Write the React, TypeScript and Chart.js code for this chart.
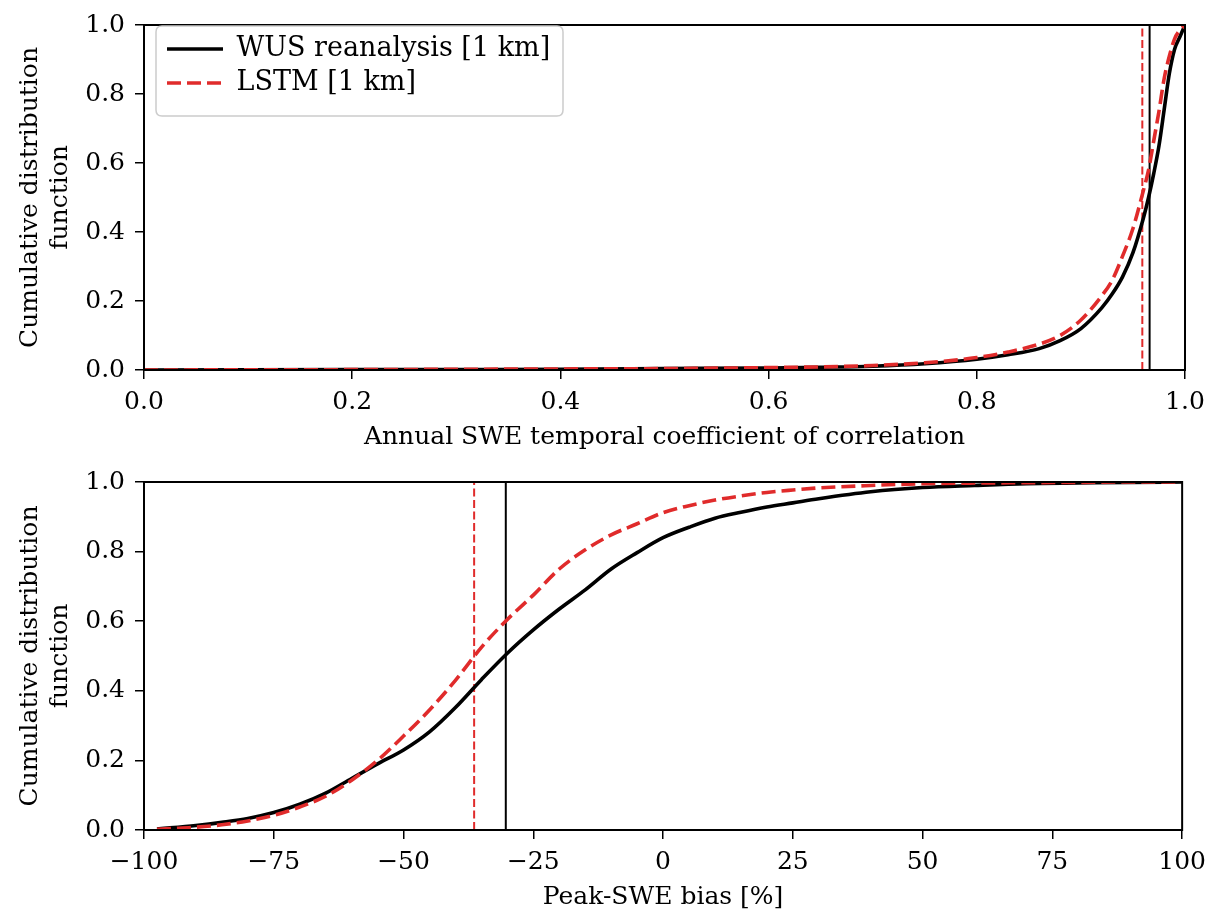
import React, { useEffect, useRef } from 'react';
import { Chart, registerables } from 'chart.js';

Chart.register(...registerables);

const FONT = "'DejaVu Serif', 'Liberation Serif', serif";
const RED = '#e02b2b';
const BLACK = '#000000';

// Top panel: annual SWE temporal correlation
const CORR_X = [0, 0.1, 0.2, 0.3, 0.4, 0.5, 0.6, 0.65, 0.7, 0.75, 0.8, 0.83, 0.86, 0.88, 0.9, 0.92, 0.93, 0.94, 0.95, 0.96, 0.965, 0.97, 0.975, 0.98, 0.985, 0.99, 0.995, 1.0];
const CORR_WUS = [0, 0.0005, 0.001, 0.0015, 0.002, 0.004, 0.006, 0.008, 0.011, 0.018, 0.031, 0.044, 0.062, 0.085, 0.12, 0.18, 0.22, 0.27, 0.34, 0.44, 0.5, 0.57, 0.65, 0.755, 0.86, 0.93, 0.965, 1.0];
const CORR_LSTM = [0, 0.0005, 0.001, 0.002, 0.003, 0.004, 0.007, 0.009, 0.013, 0.021, 0.036, 0.052, 0.075, 0.1, 0.145, 0.215, 0.26, 0.33, 0.41, 0.52, 0.58, 0.665, 0.75, 0.845, 0.91, 0.96, 0.985, 1.0];
const CORR_MEDIAN_WUS = 0.966;
const CORR_MEDIAN_LSTM = 0.959;
const CORR_TICKS = { min: 0, max: 1, step: 0.2 };

// Bottom panel: peak-SWE bias [%]
const BIAS_X = [-97.5, -95, -90, -85, -80, -75, -70, -65, -60, -55, -50, -45, -40, -35, -30, -25, -20, -15, -10, -5, 0, 5, 10, 15, 20, 25, 30, 40, 50, 60, 70, 80, 90, 100];
const BIAS_WUS = [0.003, 0.006, 0.013, 0.022, 0.033, 0.05, 0.074, 0.106, 0.148, 0.19, 0.23, 0.282, 0.352, 0.432, 0.508, 0.575, 0.635, 0.69, 0.75, 0.797, 0.84, 0.87, 0.896, 0.913, 0.928, 0.94, 0.952, 0.972, 0.984, 0.99, 0.995, 0.997, 0.999, 1.0];
const BIAS_LSTM = [0.002, 0.004, 0.008, 0.015, 0.026, 0.042, 0.066, 0.097, 0.143, 0.2, 0.27, 0.345, 0.43, 0.525, 0.605, 0.675, 0.75, 0.805, 0.848, 0.88, 0.912, 0.932, 0.948, 0.96, 0.97, 0.977, 0.983, 0.99, 0.995, 0.997, 0.998, 0.999, 1.0, 1.0];
const BIAS_MEDIAN_WUS = -30.3;
const BIAS_MEDIAN_LSTM = -36.4;
const BIAS_TICKS = { min: -100, max: 100, step: 25 };

const LABEL_WUS = 'WUS reanalysis [1 km]';
const LABEL_LSTM = 'LSTM [1 km]';
const Y_TITLE = ['Cumulative distribution', 'function'];
const X_TITLE_TOP = 'Annual SWE temporal coefficient of correlation';
const X_TITLE_BOTTOM = 'Peak-SWE bias [%]';

const W = 1214;
const H = 457;
const CURVE_W = 3.6;
const CURVE_DASH = [14, 6];

const framePlugin = {
  id: 'frame',
  afterDatasetsDraw(chart: any) {
    const { ctx, chartArea } = chart;
    ctx.save();
    ctx.strokeStyle = BLACK;
    ctx.lineWidth = 2;
    ctx.strokeRect(chartArea.left, chartArea.top, chartArea.right - chartArea.left, chartArea.bottom - chartArea.top);
    ctx.restore();
  },
};

const legendPlacePlugin = {
  id: 'legendPlace',
  beforeDraw(chart: any) {
    const lg = chart.legend;
    if (!lg) return;
    lg.left = 160;
    lg.top = 28.5;
  },
  afterDraw(chart: any) {
    const { ctx } = chart;
    const x = 156, y = 26, w = 407, h = 90, r = 6;
    ctx.save();
    ctx.strokeStyle = '#cccccc';
    ctx.lineWidth = 1.5;
    ctx.beginPath();
    ctx.moveTo(x + r, y);
    ctx.lineTo(x + w - r, y);
    ctx.quadraticCurveTo(x + w, y, x + w, y + r);
    ctx.lineTo(x + w, y + h - r);
    ctx.quadraticCurveTo(x + w, y + h, x + w - r, y + h);
    ctx.lineTo(x + r, y + h);
    ctx.quadraticCurveTo(x, y + h, x, y + h - r);
    ctx.lineTo(x, y + r);
    ctx.quadraticCurveTo(x, y, x + r, y);
    ctx.closePath();
    ctx.stroke();
    ctx.restore();
  },
};

function fmtTop(v: number) {
  return v.toFixed(1);
}
function fmtBottom(v: number) {
  const n = Math.round(v);
  return n < 0 ? '\u2212' + Math.abs(n) : String(n);
}

function legendItems(chart: any) {
  return [1, 0].map((i) => {
    const ds = chart.data.datasets[i];
    return {
      text: ds.label,
      fillStyle: ds.borderColor,
      strokeStyle: ds.borderColor,
      fontColor: BLACK,
      lineWidth: CURVE_W,
      lineDash: ds.borderDash || [],
      lineCap: 'butt',
      pointStyle: 'line',
      hidden: false,
      datasetIndex: i,
    };
  });
}

function buildConfig(p: any) {
  const pts = (xs: number[], ys: number[]) => xs.map((x, i) => ({ x, y: ys[i] }));
  const tickFont = { family: FONT, size: 25, lineHeight: 1.2 };
  return {
    type: 'line',
    data: {
      datasets: [
        {
          label: LABEL_LSTM,
          data: pts(p.x, p.lstm),
          borderColor: RED,
          backgroundColor: RED,
          borderWidth: CURVE_W,
          borderDash: CURVE_DASH,
          pointRadius: 0,
          cubicInterpolationMode: 'monotone',
          fill: false,
        },
        {
          label: LABEL_WUS,
          data: pts(p.x, p.wus),
          borderColor: BLACK,
          backgroundColor: BLACK,
          borderWidth: CURVE_W,
          pointRadius: 0,
          cubicInterpolationMode: 'monotone',
          fill: false,
        },
        {
          label: 'median WUS',
          data: [{ x: p.medWus, y: 0 }, { x: p.medWus, y: 1 }],
          borderColor: BLACK,
          borderWidth: 2,
          pointRadius: 0,
          fill: false,
        },
        {
          label: 'median LSTM',
          data: [{ x: p.medLstm, y: 0 }, { x: p.medLstm, y: 1 }],
          borderColor: RED,
          borderWidth: 2,
          borderDash: [8, 3.5],
          pointRadius: 0,
          fill: false,
        },
      ],
    },
    options: {
      responsive: false,
      animation: false,
      events: [],
      layout: { padding: { top: p.padTop, right: W - 1185, left: 0, bottom: 0 }, autoPadding: false },
      plugins: {
        tooltip: { enabled: false },
        legend: p.legend
          ? {
              display: true,
              position: 'chartArea',
              align: 'start',
              labels: {
                generateLabels: legendItems,
                usePointStyle: true,
                pointStyle: 'line',
                pointStyleWidth: 56,
                padding: 7,
                color: BLACK,
                font: { family: FONT, size: 27 },
              },
            }
          : { display: false },
      },
      scales: {
        x: {
          type: 'linear',
          min: p.ticks.min,
          max: p.ticks.max,
          afterFit: (s: any) => {
            s.height = p.xAxisHeight;
          },
          ticks: {
            stepSize: p.ticks.step,
            autoSkip: false,
            maxRotation: 0,
            padding: 8,
            color: BLACK,
            font: tickFont,
            callback: (v: any) => p.fmt(Number(v)),
          },
          grid: { drawOnChartArea: false, drawTicks: true, tickLength: 9, color: BLACK, lineWidth: 1.5 },
          border: { display: false },
          title: {
            display: true,
            text: p.xTitle,
            color: BLACK,
            font: { family: FONT, size: 25, lineHeight: 1.2 },
            padding: { top: 0, bottom: p.xTitlePad },
          },
        },
        y: {
          type: 'linear',
          min: 0,
          max: 1,
          afterFit: (s: any) => {
            s.width = 144;
          },
          ticks: {
            stepSize: 0.2,
            padding: 10,
            color: BLACK,
            font: tickFont,
            callback: (v: any) => Number(v).toFixed(1),
          },
          grid: { drawOnChartArea: false, drawTicks: true, tickLength: 9, color: BLACK, lineWidth: 1.5 },
          border: { display: false },
          title: {
            display: true,
            text: Y_TITLE,
            color: BLACK,
            font: { family: FONT, size: 25, lineHeight: 1.22 },
            padding: { top: 15, bottom: 0 },
          },
        },
      },
    },
    plugins: p.legend ? [framePlugin, legendPlacePlugin] : [framePlugin],
  };
}

export default function App() {
  const topRef = useRef<HTMLCanvasElement | null>(null);
  const botRef = useRef<HTMLCanvasElement | null>(null);

  useEffect(() => {
    Chart.defaults.font.family = FONT;
    Chart.defaults.color = BLACK;
    const top = new Chart(topRef.current as HTMLCanvasElement, buildConfig({
      x: CORR_X,
      wus: CORR_WUS,
      lstm: CORR_LSTM,
      medWus: CORR_MEDIAN_WUS,
      medLstm: CORR_MEDIAN_LSTM,
      ticks: CORR_TICKS,
      fmt: fmtTop,
      xTitle: X_TITLE_TOP,
      padTop: 17,
      xAxisHeight: H - 370,
      xTitlePad: 5,
      legend: true,
    }) as any);
    const bot = new Chart(botRef.current as HTMLCanvasElement, buildConfig({
      x: BIAS_X,
      wus: BIAS_WUS,
      lstm: BIAS_LSTM,
      medWus: BIAS_MEDIAN_WUS,
      medLstm: BIAS_MEDIAN_LSTM,
      ticks: BIAS_TICKS,
      fmt: fmtBottom,
      xTitle: X_TITLE_BOTTOM,
      padTop: 20,
      xAxisHeight: H - (830 - 457),
      xTitlePad: 2,
      legend: false,
    }) as any);
    return () => {
      top.destroy();
      bot.destroy();
    };
  }, []);

  return (
    <div style={{ position: 'absolute', left: 0, top: 0, width: W, height: 914, background: '#fff' }}>
      <canvas ref={topRef} width={W} height={H} style={{ position: 'absolute', left: 0, top: 0, display: 'block' }} />
      <canvas ref={botRef} width={W} height={H} style={{ position: 'absolute', left: 0, top: 457, display: 'block' }} />
    </div>
  );
}
